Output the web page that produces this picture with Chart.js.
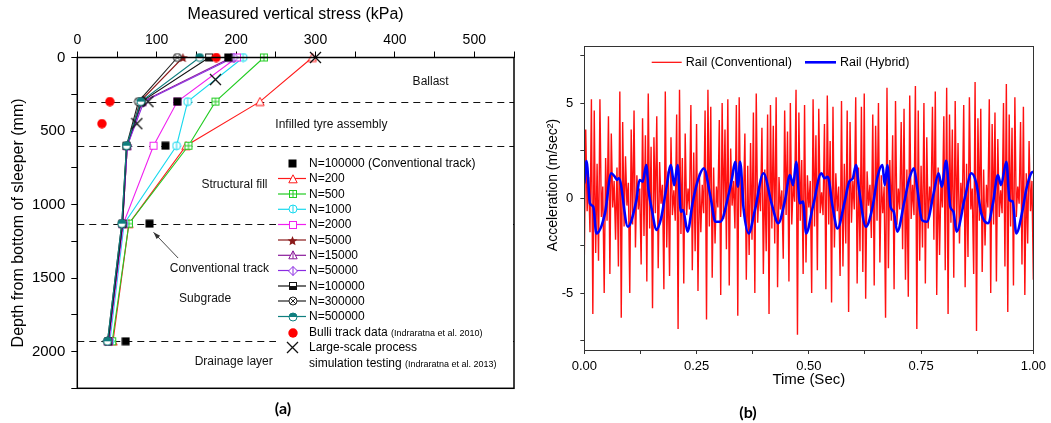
<!DOCTYPE html>
<html><head><meta charset="utf-8">
<script src="https://cdn.jsdelivr.net/npm/chart.js@4.4.1/dist/chart.umd.min.js"></script>
<style>
html,body{margin:0;padding:0;background:#fff;width:1051px;height:423px;overflow:hidden;}
#wa{position:absolute;left:0;top:0;width:530px;height:423px;}
#wb{position:absolute;left:530px;top:0;width:521px;height:423px;}
</style></head><body>
<div id="wa"><canvas id="ca"></canvas></div>
<div id="wb"><canvas id="cb"></canvas></div>
<script>
// ---------- (a) data ----------
const depths = [0, 300, 600, 1130, 1930];
const stressN200    = [296, 230, 137, 65, 45];
const stressN500    = [235, 174, 140, 65, 44];
const stressN1000   = [209, 139, 125, 59, 41];
const stressN2000   = [201, 126, 96, 58, 40];
const stressN5000   = [133, 79, 63, 57, 39];
const stressN15000  = [194, 82, 63, 57, 39];
const stressN50000  = [197, 84, 63, 57, 39];
const stressN100000 = [166, 81, 62, 57, 39];
const stressN300000 = [126, 77, 62, 56, 38];
const stressN500000 = [154, 80, 62, 56, 38];
const conventionalStress = [190, 126, 111, 91, 61];
const bulliDepths = [0, 300, 450];
const bulliStress = [175, 41, 31];
const largeScaleDepths = [0, 150, 300, 450];
const largeScaleStress = [300, 174, 89, 75];
const layerDepths = [300, 600, 1130, 1930];
const stressTicks = [0, 100, 200, 300, 400, 500];
const stressAllTicks = [0, 50, 100, 150, 200, 250, 300, 350, 400, 450, 500, 550];
const depthTicks = [0, 500, 1000, 1500, 2000];
const depthAllTicks = [0, 250, 500, 750, 1000, 1250, 1500, 1750, 2000, 2250];

// ---------- (b) data ----------
const convAcc = [
 -3.2, 3.6, -0.7, 1.1, -1.8, 5.2, -6.1, 4.6, -2.9, 1.8, -3.3, 5.2, -1.0, 0.6, -5.0, 2.1, -1.2, 4.3, -4.0, 3.4, -0.5, 0.9, -2.2,
 1.6, -3.6, 5.6, -6.3, 4.0, -1.5, 2.2, -0.4, 0.8, -5.0, 3.6, -1.4, 4.6, -2.6, 1.2, -0.6, 0.5, -3.5, 4.2, -2.0, 3.3,
 -4.4, 5.5, -1.6, 2.7, -5.8, 3.2, -0.8, 4.3, -3.7, 1.9, -0.3, 0.7, -4.8, 5.6, -2.6, 1.4, -4.1, 3.2, -0.9, 0.4, -1.2,
 4.4, -6.9, 5.7, -1.9, 2.1, -4.5, 3.4, -0.9, 0.5, -0.6, 4.9, -3.8, 2.4, -2.8, 3.9, -4.9, 1.3, -1.8, 0.7, -0.8, 4.6,
 -6.4, 5.7, -1.5, 4.8, -4.2, 1.6, -2.4, 0.6, -0.5, 4.1, -5.1, 5.0, -1.1, 3.6, -2.7, 5.2, -4.6, 2.6, -0.4, 0.9, -1.6,
 4.9, -6.2, 5.3, -1.0, 0.8, -0.3, 3.4, -4.3, 1.7, -3.0, 2.9, -2.2, 4.5, -5.0, 5.5, -1.3, 0.5, -0.7, 3.7, -4.0, 1.5,
 -2.8, 4.4, -6.1, 4.9, -1.6, 3.8, -2.4, 5.3, -4.7, 1.1, -0.6, 0.4, -3.2, 4.6, -0.9, 3.5, -4.4, 5.0, -1.4, 0.8, -0.2,
 5.7, -7.2, 4.5, -1.2, 2.0, -4.0, 4.9, -3.4, 1.2, -0.5, 0.9, -5.0, 5.2, -1.5, 3.3, -3.8, 4.7, -0.8, 0.3, -0.9, 3.9,
 -4.8, 5.4, -1.4, 3.0, -5.5, 4.8, -2.6, 1.3, -0.7, 0.6, -4.1, 5.1, -3.6, 1.8, -2.4, 4.6, -6.0, 4.0, -1.3, 0.9, -0.6,
 5.3, -4.5, 1.6, -2.8, 4.8, -3.9, 5.5, -5.3, 1.4, -0.4, 0.7, -2.1, 4.4, -4.6, 3.8, -1.2, 5.0, -3.4, 1.2, -0.8, 0.6,
 -6.3, 5.8, -3.7, 2.0, -1.2, 3.3, -4.8, 5.1, -1.4, 0.5, -0.6, 4.0, -2.7, 4.7, -4.3, 1.5, -5.2, 5.4, -1.1, 0.7, -0.9,
 5.9, -6.9, 4.6, -3.3, 1.7, -2.6, 5.0, -4.5, 3.2, -1.6, 0.6, -0.4, 4.8, -2.2, 5.6, -5.1, 1.6, -3.0, 0.9, -0.5, 4.3,
 -3.8, 5.8, -6.1, 4.4, -1.3, 3.6, -4.2, 5.1, -1.7, 2.9, -2.4, 0.8, -0.7, 4.9, -4.7, 1.8, -3.1, 5.3, -0.6, 0.5, -4.0,
 6.1, -7.0, 4.2, -1.2, 4.7, -3.9, 1.5, -2.5, 0.7, -0.5, 5.2, -5.0, 3.9, -1.4, 4.5, -4.4, 3.1, -1.0, 0.4, -0.8, 5.0,
 -3.6, 6.0, -6.0, 4.4, -1.5, 3.7, -4.6, 5.3, -1.0, 0.6, -0.3, 4.0, -3.5, 4.8, -5.1, 1.3, -2.4, 3.0, -0.7, 0.9, -4.3
];
const hybridTime = [0,0.005,0.0125,0.02,0.027,0.046,0.060,0.068,0.073,0.077,0.097,0.116,0.123,0.130,0.138,0.143,0.152,0.160,0.171,0.182,0.193,0.200,0.208,0.215,0.220,0.230,0.241,0.252,0.266,0.281,0.292,0.303,0.322,0.329,0.336,0.342,0.347,0.355,0.366,0.380,0.399,0.417,0.432,0.447,0.458,0.465,0.472,0.480,0.487,0.494,0.509,0.528,0.535,0.542,0.553,0.564,0.579,0.590,0.598,0.605,0.612,0.627,0.642,0.653,0.664,0.669,0.675,0.682,0.689,0.697,0.712,0.723,0.734,0.741,0.752,0.763,0.778,0.789,0.796,0.806,0.815,0.822,0.829,0.848,0.862,0.873,0.884,0.899,0.910,0.921,0.928,0.940,0.947,0.954,0.962,0.976,0.984,0.995,1.0];
const hybridAcc = [0.77,1.95,-0.28,-0.46,-1.86,-0.81,1.30,1.12,0.95,1.04,-1.51,-0.11,0.95,0.86,1.74,0.42,-0.81,-1.68,-1.07,0.42,1.74,0.68,1.74,-0.72,-0.63,-1.77,-0.28,0.86,1.56,0.07,-1.25,-1.25,0.25,1.04,1.91,0.60,1.91,-0.63,-1.86,-0.63,1.30,-0.28,-1.33,-0.11,1.21,0.68,1.91,-0.28,-0.19,-1.86,-0.46,1.30,1.04,1.12,-0.46,-1.60,-0.28,0.86,1.04,1.74,0.42,-1.51,-0.46,1.12,1.74,0.68,1.74,-0.46,-0.72,-1.77,-0.28,0.95,1.56,0.60,-1.16,-1.25,0.25,1.30,0.60,1.96,-0.46,-0.72,-1.77,0.07,1.30,0.77,-0.81,-1.33,-0.28,1.21,0.68,1.91,-0.11,-0.19,-1.86,-0.63,0.42,1.30,1.39];
const timeTicks = [0, 0.125, 0.25, 0.375, 0.5, 0.625, 0.75, 0.875, 1];
const timeTickLabels = [0, 0.25, 0.5, 0.75, 1];
const accTicks = [-7.5, -5, -2.5, 0, 2.5, 5, 7.5];
const accTickLabels = [-5, 0, 5];

// ---------- styles ----------
const F = "'Liberation Sans', Arial, sans-serif";

function mk(size, draw) {
  const c = document.createElement('canvas');
  c.width = size; c.height = size;
  const g = c.getContext('2d');
  draw(g, size);
  return c;
}
function triPath(g, s) { g.beginPath(); g.moveTo(s/2, 0.8); g.lineTo(s-0.8, s-1.2); g.lineTo(0.8, s-1.2); g.closePath(); }
function dmPath(g, s) { g.beginPath(); g.moveTo(s/2, 0.5); g.lineTo(s-0.5, s/2); g.lineTo(s/2, s-0.5); g.lineTo(0.5, s/2); g.closePath(); }
const M = {
  triOpen: c => mk(10, (g, s) => { triPath(g, s); g.fillStyle='#fff'; g.fill(); g.strokeStyle=c; g.lineWidth=1; g.stroke(); }),
  sqCross: c => mk(10, (g, s) => { g.fillStyle='#fff'; g.fillRect(1,1,s-2,s-2); g.strokeStyle=c; g.lineWidth=1; g.strokeRect(1.5,1.5,s-3,s-3);
      g.beginPath(); g.moveTo(s/2,1.5); g.lineTo(s/2,s-1.5); g.moveTo(1.5,s/2); g.lineTo(s-1.5,s/2); g.stroke(); }),
  circVert: c => mk(10, (g, s) => { g.beginPath(); g.arc(s/2,s/2,s/2-1,0,Math.PI*2); g.fillStyle='#fff'; g.fill(); g.strokeStyle=c; g.lineWidth=1; g.stroke();
      g.beginPath(); g.moveTo(s/2,1); g.lineTo(s/2,s-1); g.stroke(); }),
  sqOpen: c => mk(10, (g, s) => { g.fillStyle='#fff'; g.fillRect(1,1,s-2,s-2); g.strokeStyle=c; g.lineWidth=1; g.strokeRect(1.5,1.5,s-3,s-3); }),
  star: c => mk(11, (g, s) => { g.beginPath(); for (let i=0;i<10;i++){ const r = i%2===0 ? s/2-0.3 : (s/2)*0.42; const a = -Math.PI/2 + i*Math.PI/5;
      const px = s/2 + r*Math.cos(a), py = s/2 + 0.6 + r*Math.sin(a); if(i===0) g.moveTo(px,py); else g.lineTo(px,py);} g.closePath(); g.fillStyle=c; g.fill(); }),
  triVert: c => mk(10, (g, s) => { triPath(g, s); g.fillStyle='#fff'; g.fill(); g.strokeStyle=c; g.lineWidth=1; g.stroke();
      g.beginPath(); g.moveTo(s/2,1); g.lineTo(s/2,s-1.2); g.stroke(); }),
  dmVert: c => mk(10, (g, s) => { dmPath(g, s); g.fillStyle='#fff'; g.fill(); g.strokeStyle=c; g.lineWidth=1; g.stroke();
      g.beginPath(); g.moveTo(s/2,0.5); g.lineTo(s/2,s-0.5); g.stroke(); }),
  sqHalf: c => mk(10, (g, s) => { g.fillStyle='#fff'; g.fillRect(1,1,s-2,s-2); g.fillStyle=c; g.fillRect(1.5,s/2,s-3,s/2-1.5);
      g.strokeStyle=c; g.lineWidth=1; g.strokeRect(1.5,1.5,s-3,s-3); }),
  circX: c => mk(10, (g, s) => { g.beginPath(); g.arc(s/2,s/2,s/2-1,0,Math.PI*2); g.fillStyle='#fff'; g.fill(); g.strokeStyle=c; g.lineWidth=1; g.stroke();
      const d=(s/2-1)*0.72; g.beginPath(); g.moveTo(s/2-d,s/2-d); g.lineTo(s/2+d,s/2+d); g.moveTo(s/2+d,s/2-d); g.lineTo(s/2-d,s/2+d); g.stroke(); }),
  circHalf: c => mk(10, (g, s) => { g.beginPath(); g.arc(s/2,s/2,s/2-1,0,Math.PI*2); g.fillStyle='#fff'; g.fill();
      g.beginPath(); g.arc(s/2,s/2,s/2-1,Math.PI,0); g.closePath(); g.fillStyle=c; g.fill();
      g.beginPath(); g.arc(s/2,s/2,s/2-1,0,Math.PI*2); g.strokeStyle=c; g.lineWidth=1; g.stroke(); }),
  sqFill: c => mk(9, (g, s) => { g.fillStyle=c; g.fillRect(0.5,0.5,s-1,s-1); }),
  dot: c => mk(10, (g, s) => { g.beginPath(); g.arc(s/2,s/2,s/2-0.3,0,Math.PI*2); g.fillStyle=c; g.fill(); }),
  bigX: c => mk(13, (g, s) => { g.strokeStyle=c; g.lineWidth=1.3; g.beginPath(); g.moveTo(1,1); g.lineTo(s-1,s-1); g.moveTo(s-1,1); g.lineTo(1,s-1); g.stroke(); })
};

const seriesDefs = [
  {label:'N=200',    values:stressN200,    color:'#ff1a1a', marker:M.triOpen('#ff1a1a')},
  {label:'N=500',    values:stressN500,    color:'#22cc22', marker:M.sqCross('#22cc22')},
  {label:'N=1000',   values:stressN1000,   color:'#19d9ee', marker:M.circVert('#19d9ee')},
  {label:'N=2000',   values:stressN2000,   color:'#f020f0', marker:M.sqOpen('#f020f0')},
  {label:'N=5000',   values:stressN5000,   color:'#8b1a1a', marker:M.star('#8b1a1a')},
  {label:'N=15000',  values:stressN15000,  color:'#8a1a9a', marker:M.triVert('#8a1a9a')},
  {label:'N=50000',  values:stressN50000,  color:'#8a2be2', marker:M.dmVert('#8a2be2')},
  {label:'N=100000', values:stressN100000, color:'#111111', marker:M.sqHalf('#111111')},
  {label:'N=300000', values:stressN300000, color:'#222222', marker:M.circX('#222222')},
  {label:'N=500000', values:stressN500000, color:'#0f7f7f', marker:M.circHalf('#0f7f7f')}
];
const convMarker = M.sqFill('#000');
const bulliMarker = M.dot('#ff0000');
const lsMarker = M.bigX('#111');

const leftDatasets = seriesDefs.map((s, i) => ({
  label: s.label,
  data: depths.map((d, k) => ({x: s.values[k], y: d})),
  showLine: true, borderColor: s.color, borderWidth: 1.1, backgroundColor: s.color,
  pointStyle: s.marker, pointRadius: 5, clip: false, order: 20 - i
}));
leftDatasets.push({label:'N=100000 (Conventional track)', data: depths.map((d,k)=>({x:conventionalStress[k], y:d})),
  showLine:false, pointStyle: convMarker, pointRadius:5, clip:false, order: 5});
leftDatasets.push({label:'Bulli track data', data: bulliDepths.map((d,k)=>({x:bulliStress[k], y:d})),
  showLine:false, pointStyle: bulliMarker, pointRadius:5, clip:false, order: 4});
leftDatasets.push({label:'Large-scale process simulation testing', data: largeScaleDepths.map((d,k)=>({x:largeScaleStress[k], y:d})),
  showLine:false, pointStyle: lsMarker, pointRadius:6, clip:false, order: 3});

// annotation texts (placed in data coordinates)
const leftNotes = [
  {text:'Ballast', x:445, y:165},
  {text:'Infilled tyre assembly', x:320, y:454},
  {text:'Structural fill', x:198, y:867},
  {text:'Conventional track', x:179, y:1434},
  {text:'Subgrade', x:161, y:1638},
  {text:'Drainage layer', x:197, y:2069}
];

const leftDeco = {
  id: 'leftDeco',
  beforeDatasetsDraw(chart) {
    const {ctx, chartArea: a, scales: {y}} = chart;
    ctx.save();
    ctx.strokeStyle = '#111'; ctx.lineWidth = 1.2; ctx.setLineDash([7, 5]);
    layerDepths.forEach(d => { const py = Math.round(y.getPixelForValue(d)) + 0.5;
      ctx.beginPath(); ctx.moveTo(a.left, py); ctx.lineTo(a.right, py); ctx.stroke(); });
    ctx.restore();
  },
  afterDatasetsDraw(chart) {
    const {ctx, chartArea: a, scales: {x, y}} = chart;
    ctx.save();
    ctx.fillStyle = '#fff'; ctx.fillRect(276, 154, a.right - 276 - 1, 218);
    const lx0 = 278, lx1 = 306, mx = 292.5, tx = 309;
    ctx.textBaseline = 'middle'; ctx.textAlign = 'left'; ctx.fillStyle = '#000';
    const rows = [
      {y:163.3, marker:convMarker, text:'N=100000 (Conventional track)'}
    ];
    const rowY = [178.5, 194, 209.3, 224.5, 240, 255.3, 270.5, 286, 301, 316.5];
    seriesDefs.forEach((s, i) => rows.push({y: rowY[i], marker: s.marker, color: s.color, text: s.label}));
    rows.forEach(r => {
      if (r.color) { ctx.strokeStyle = r.color; ctx.lineWidth = 1.2; ctx.beginPath(); ctx.moveTo(lx0, r.y); ctx.lineTo(lx1, r.y); ctx.stroke(); }
      ctx.drawImage(r.marker, Math.round(mx - r.marker.width/2), Math.round(r.y - r.marker.height/2));
      ctx.font = '12px ' + F; ctx.fillStyle = '#000'; ctx.fillText(r.text, tx, r.y + 0.5);
    });
    ctx.drawImage(bulliMarker, Math.round(mx - 5), Math.round(332.5 - 5));
    ctx.font = '12px ' + F; ctx.fillText('Bulli track data ', tx, 333);
    let w = ctx.measureText('Bulli track data ').width;
    ctx.font = '9px ' + F; ctx.fillText('(Indraratna et al. 2010)', tx + w, 334);
    ctx.drawImage(lsMarker, Math.round(mx - 6.5), Math.round(347.7 - 6.5));
    ctx.font = '12px ' + F; ctx.fillText('Large-scale process', tx, 348);
    ctx.fillText('simulation testing ', tx, 363.5);
    w = ctx.measureText('simulation testing ').width;
    ctx.font = '9px ' + F; ctx.fillText('(Indraratna et al. 2013)', tx + w, 364.5);
    ctx.font = '12px ' + F; ctx.textAlign = 'center'; ctx.fillStyle = '#111';
    leftNotes.forEach(n => ctx.fillText(n.text, x.getPixelForValue(n.x), y.getPixelForValue(n.y)));
    const x1 = x.getPixelForValue(127), y1 = y.getPixelForValue(1364);
    const x2 = x.getPixelForValue(96), y2 = y.getPixelForValue(1189);
    ctx.strokeStyle = '#333'; ctx.lineWidth = 0.9;
    ctx.beginPath(); ctx.moveTo(x1, y1); ctx.lineTo(x2, y2); ctx.stroke();
    const ang = Math.atan2(y2 - y1, x2 - x1);
    ctx.fillStyle = '#333'; ctx.beginPath(); ctx.moveTo(x2, y2);
    ctx.lineTo(x2 - 7*Math.cos(ang) + 2.5*Math.sin(ang), y2 - 7*Math.sin(ang) - 2.5*Math.cos(ang));
    ctx.lineTo(x2 - 7*Math.cos(ang) - 2.5*Math.sin(ang), y2 - 7*Math.sin(ang) + 2.5*Math.cos(ang));
    ctx.closePath(); ctx.fill();
    ctx.strokeStyle = '#000'; ctx.lineWidth = 1.5;
    ctx.strokeRect(a.left, a.top, a.right - a.left, a.bottom - a.top);
    ctx.font = 'bold 16px Lato, ' + F; ctx.fillStyle = '#000'; ctx.textAlign = 'center';
    ctx.fillText('(a)', 283, 409);
    ctx.restore();
  }
};

new Chart(document.getElementById('ca'), {
  type: 'scatter',
  data: {datasets: leftDatasets},
  options: {
    animation: false, responsive: true, maintainAspectRatio: false, devicePixelRatio: 1,
    layout: {padding: {left: 0, right: 16, top: 0, bottom: 34.7}},
    plugins: {legend: {display: false}, tooltip: {enabled: false}},
    scales: {
      x: {type: 'linear', position: 'top', min: 0, max: 550,
        afterBuildTicks: s => { s.ticks = stressAllTicks.map(v => ({value: v})); },
        afterFit: s => { s.height = 57.5; },
        ticks: {callback: v => stressTicks.includes(v) ? String(v) : '', font: {family: F, size: 14}, color: '#000', padding: 3, autoSkip: false, maxRotation: 0},
        grid: {display: true, drawOnChartArea: false, drawTicks: true, tickLength: 6, color: '#000', lineWidth: 1},
        border: {display: false},
        title: {display: true, text: 'Measured vertical stress (kPa)', font: {family: F, size: 16}, color: '#000', padding: {top: 5, bottom: 0}}
      },
      y: {type: 'linear', reverse: true, min: 0, max: 2250,
        afterBuildTicks: s => { s.ticks = depthAllTicks.map(v => ({value: v})); },
        afterFit: s => { s.width = 77.3; },
        ticks: {callback: v => depthTicks.includes(v) ? String(v) : '', font: {family: F, size: 15}, color: '#000', padding: 6, autoSkip: false},
        grid: {display: true, drawOnChartArea: false, drawTicks: true, tickLength: 6, color: '#000', lineWidth: 1},
        border: {display: false},
        title: {display: true, text: 'Depth from bottom of sleeper (mm)', font: {family: F, size: 16}, color: '#000', padding: {top: 9, bottom: 0}}
      }
    }
  },
  plugins: [leftDeco]
});

// ---------- (b) chart ----------
const dtConv = 1 / (convAcc.length - 1);
const rightDeco = {
  id: 'rightDeco',
  afterDatasetsDraw(chart) {
    const {ctx, chartArea: a} = chart;
    ctx.save();
    ctx.strokeStyle = '#333'; ctx.lineWidth = 1;
    ctx.strokeRect(Math.round(a.left) + 0.5, Math.round(a.top) + 0.5, Math.round(a.right - a.left), Math.round(a.bottom - a.top));
    ctx.textBaseline = 'middle'; ctx.textAlign = 'left'; ctx.fillStyle = '#000';
    ctx.font = '12.5px ' + F;
    ctx.strokeStyle = '#ff0000'; ctx.lineWidth = 1.2;
    ctx.beginPath(); ctx.moveTo(121.7, 62.3); ctx.lineTo(151.7, 62.3); ctx.stroke();
    ctx.fillText('Rail (Conventional)', 155.7, 62.8);
    ctx.strokeStyle = '#0000ff'; ctx.lineWidth = 2.6;
    ctx.beginPath(); ctx.moveTo(275, 62.3); ctx.lineTo(306, 62.3); ctx.stroke();
    ctx.fillText('Rail (Hybrid)', 310, 62.8);
    ctx.save(); ctx.translate(23, 185); ctx.rotate(-Math.PI / 2);
    ctx.textAlign = 'center'; ctx.font = '14px ' + F;
    ctx.fillText('Acceleration (m/sec²)', 0, 0);
    ctx.restore();
    ctx.font = 'bold 16px Lato, ' + F; ctx.textAlign = 'center';
    ctx.fillText('(b)', 218, 413);
    ctx.restore();
  }
};

new Chart(document.getElementById('cb'), {
  type: 'line',
  data: {datasets: [
    {label: 'Rail (Hybrid)', data: hybridTime.map((t, i) => ({x: t, y: hybridAcc[i]})),
      borderColor: '#0000ff', borderWidth: 2.6, pointRadius: 0, cubicInterpolationMode: 'monotone', order: 0},
    {label: 'Rail (Conventional)', data: convAcc.map((v, i) => ({x: i * dtConv, y: v})),
      borderColor: '#ff1010', borderWidth: 1.4, pointRadius: 0, tension: 0, order: 1}
  ]},
  options: {
    animation: false, responsive: true, maintainAspectRatio: false, devicePixelRatio: 1,
    layout: {padding: {left: 0, right: 13.7, top: 46, bottom: 0}},
    plugins: {legend: {display: false}, tooltip: {enabled: false}},
    scales: {
      x: {type: 'linear', min: 0, max: 1, position: 'bottom',
        afterBuildTicks: s => { s.ticks = timeTicks.map(v => ({value: v})); },
        afterFit: s => { s.height = 73; },
        ticks: {callback: v => timeTickLabels.includes(v) ? v.toFixed(2) : '', font: {family: F, size: 13}, color: '#000', padding: 5, autoSkip: false, maxRotation: 0},
        grid: {display: true, drawOnChartArea: false, drawTicks: true, tickLength: 4, color: '#333'},
        border: {display: false},
        title: {display: true, text: 'Time (Sec)', font: {family: F, size: 15}, color: '#000', padding: {top: 0, bottom: 34}}
      },
      y: {type: 'linear', min: -8, max: 8,
        afterBuildTicks: s => { s.ticks = accTicks.map(v => ({value: v})); },
        afterFit: s => { s.width = 54.3; },
        ticks: {callback: v => accTickLabels.includes(v) ? String(v) : '', font: {family: F, size: 13}, color: '#000', padding: 7, autoSkip: false},
        grid: {display: true, drawOnChartArea: false, drawTicks: true, tickLength: 4, color: '#333'},
        border: {display: false}
      }
    }
  },
  plugins: [rightDeco]
});
</script>
</body></html>
